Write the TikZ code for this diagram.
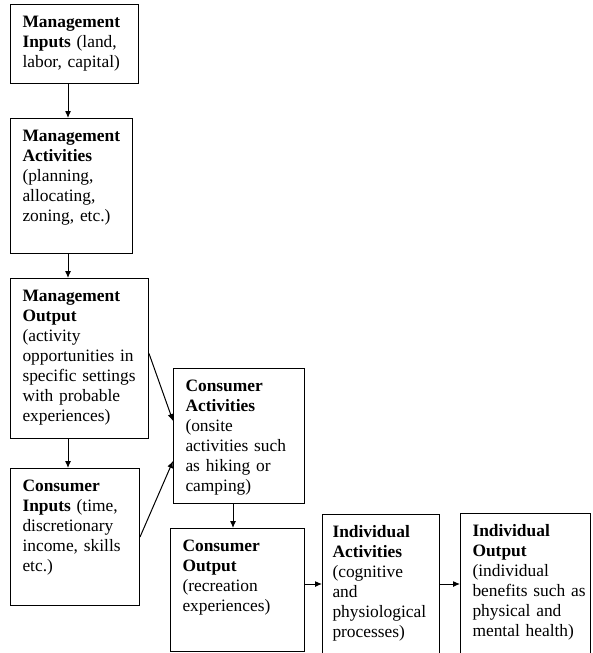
\documentclass[tikz,border=0pt]{standalone}
\usepackage{fontspec}
\setmainfont{Liberation Serif}
\usepackage{tikz}
\usetikzlibrary{arrows,arrows.meta}
\tikzstyle{stage}=[draw,anchor=north west,line width=1pt,inner xsep=0pt,inner ysep=0pt,align=left,text height=23pt,font=\fontsize{17.4}{20}\selectfont,execute at begin node={\leftskip=12pt\relax}]
\tikzstyle{link}=[->,line width=1pt]

\begin{document}
\begin{tikzpicture}[x=1pt,y=-1pt,>={Latex[length=7pt,width=6pt]}]
        \clip (0,0) rectangle (592,653);
        \node at ( 10,  4) [stage,text width=128pt,text depth=56pt] (mi) {\textbf{Management}\\\textbf{Inputs} (land,\\labor, capital)};
        \node at ( 10,118) [stage,text width=122pt,text depth=112pt] (ma) {\textbf{Management}\\\textbf{Activities}\\(planning,\\allocating,\\zoning, etc.)};
        \node at ( 10,278) [stage,text width=138pt,text depth=137pt] (mo) {\textbf{Management}\\\textbf{Output}\\(activity\\opportunities in\\specific settings\\with probable\\experiences)};
        \node at ( 10,468) [stage,text width=129pt,text depth=114pt] (ci) {\textbf{Consumer}\\\textbf{Inputs} (time,\\discretionary\\income, skills\\etc.)};
        \node at (173,368) [stage,text width=131pt,text depth=112pt] (ca) {\textbf{Consumer}\\\textbf{Activities}\\(onsite\\activities such\\as hiking or\\camping)};
        \node at (170,528) [stage,text width=134pt,text depth=100pt] (co) {\textbf{Consumer}\\\textbf{Output}\\(recreation\\experiences)};
        \node at (322,514) [stage,text width=117pt,text depth=143pt,execute at begin node={\leftskip=10pt\relax}] (ia) {\textbf{Individual}\\\textbf{Activities}\\(cognitive\\and\\physiological\\processes)};
        \node at (460,513) [stage,text width=130pt,text depth=144pt] (io) {\textbf{Individual}\\\textbf{Output}\\(individual\\benefits such as\\physical and\\mental health)};
        \coordinate (col) at (68,0);
        \coordinate (col2) at (233,0);
        \coordinate (row) at (0,584);
        \draw [link] (mi.south -| col) to (ma.north -| col);
        \draw [link] (ma.south -| col) to (mo.north -| col);
        \draw [link] (mo.south -| col) to (ci.north -| col);
        \draw [link] ([yshift=5pt]mo.east) to ([yshift=15pt]ca.west);
        \draw [link] (ci.east) to ([yshift=-25pt]ca.west);
        \draw [link] (ca.south -| col2) to (co.north -| col2);
        \draw [link] (co.east |- row) to (ia.west |- row);
        \draw [link] (ia.east |- row) to (io.west |- row);
      \end{tikzpicture}
\end{document}
